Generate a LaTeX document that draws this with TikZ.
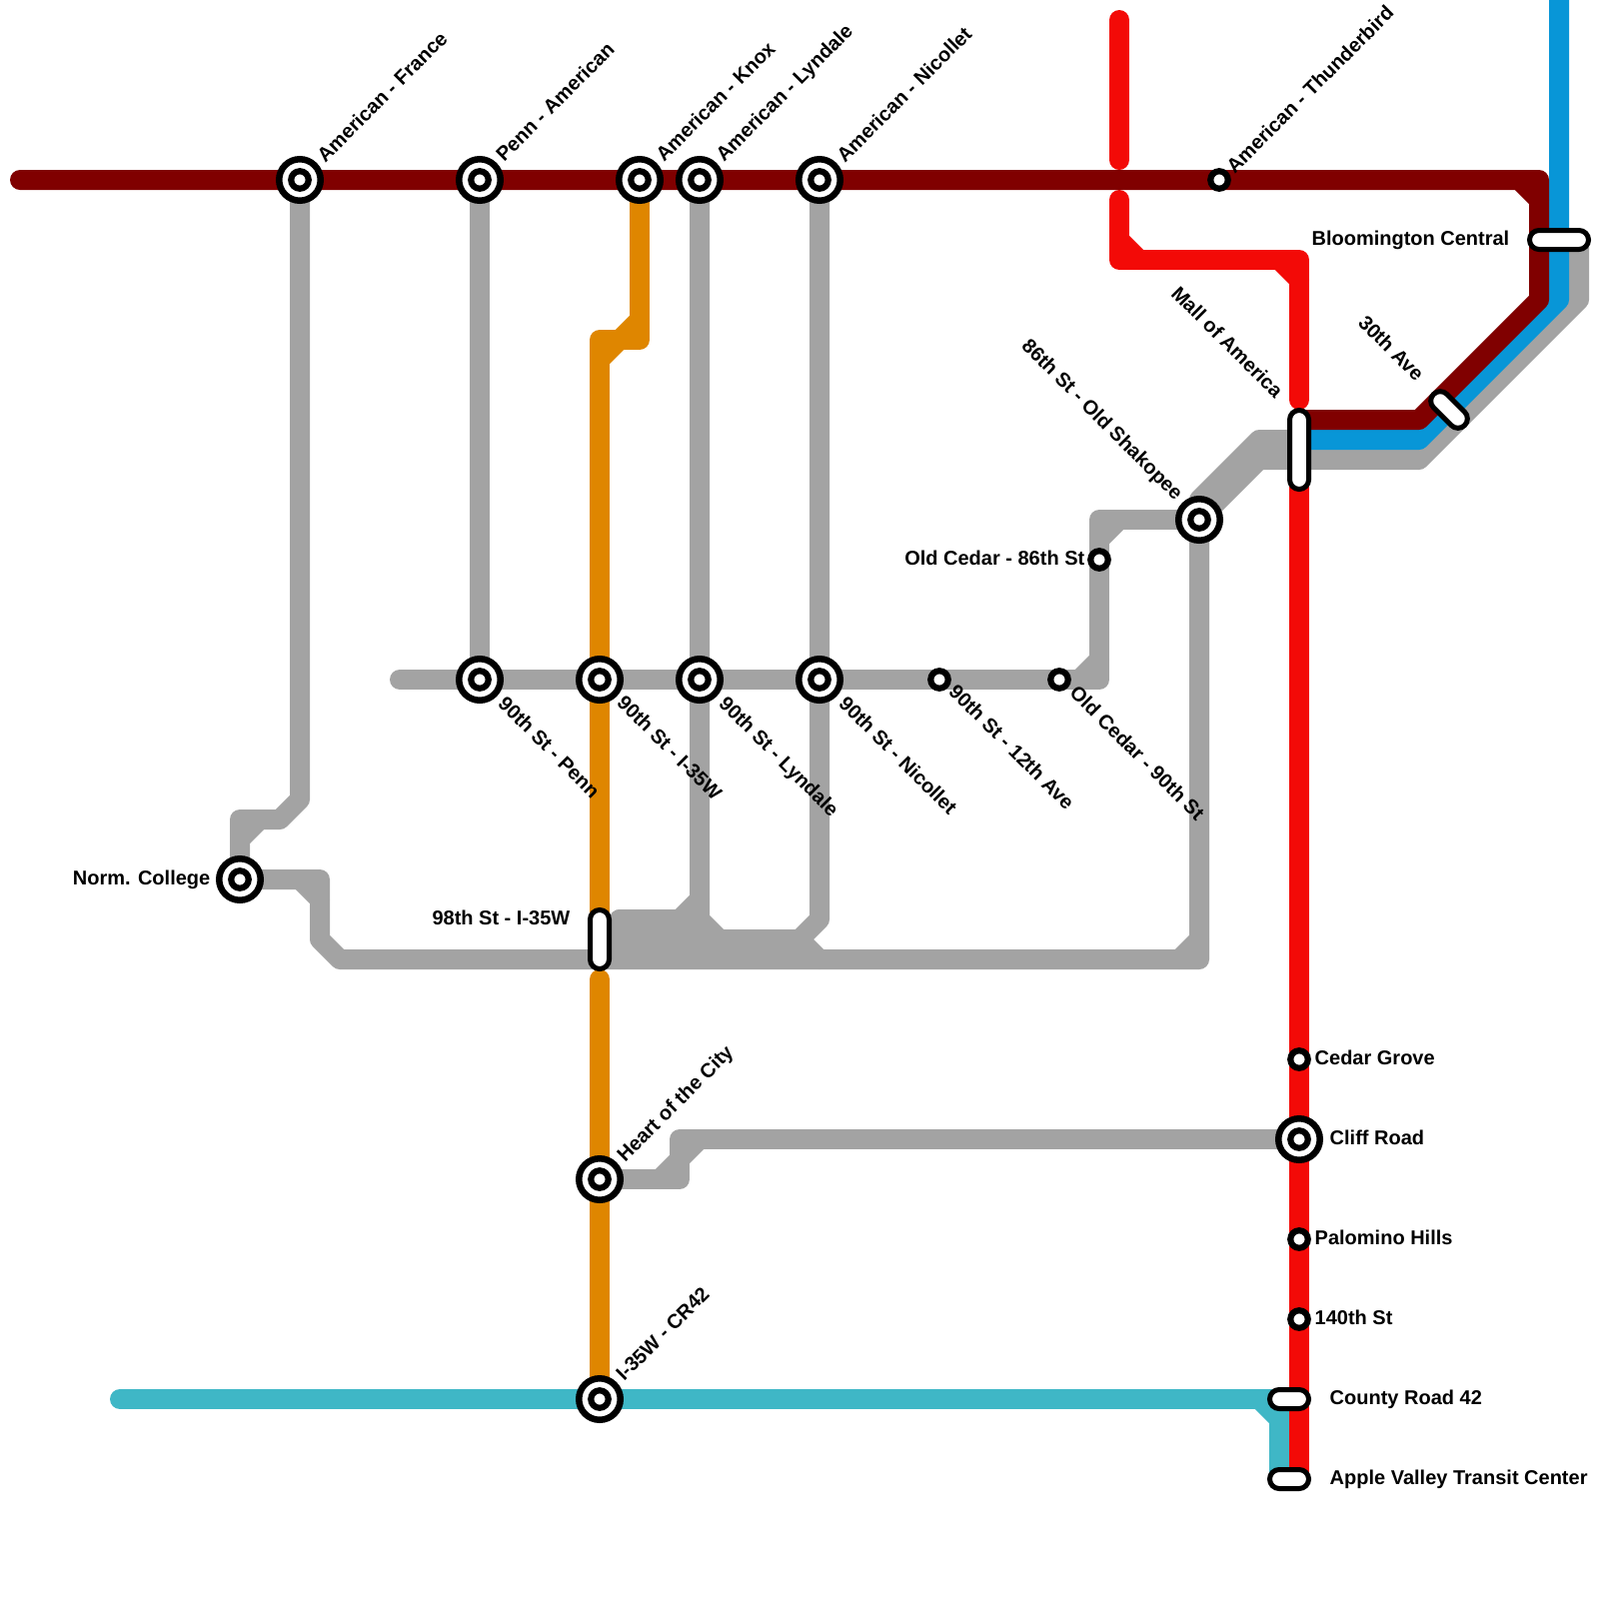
\documentclass[tikz,border=0pt]{standalone}
\usepackage{fontspec}
\setmainfont{Liberation Sans}
\definecolor{cmaroon}{HTML}{800000}
\definecolor{cred}{HTML}{F30A07}
\definecolor{cgray}{HTML}{A3A3A3}
\definecolor{corange}{HTML}{DF8600}
\definecolor{cteal}{HTML}{3FB7C6}
\definecolor{cblue}{HTML}{0896D7}
\tikzset{
  metro/.style={line width=2mm,line cap=round,line join=round},
  gline/.style={metro,draw=cgray},
  mline/.style={metro,draw=cmaroon},
  rline/.style={metro,draw=cred},
  oline/.style={metro,draw=corange},
  tline/.style={metro,draw=cteal},
  bline/.style={metro,draw=cblue},
  ringout/.style={circle,draw=black,fill=white,line width=0.65mm,minimum size=4.15mm,inner sep=0pt,outer sep=0pt},
  ringin/.style={circle,draw=black,fill=white,line width=0.62mm,minimum size=1.75mm,inner sep=0pt,outer sep=0pt},
  capsule/.style={rectangle,draw=black,fill=white,line width=0.5mm,minimum height=1.9mm,rounded corners=0.95mm,inner sep=0pt,outer sep=0pt},
  lab/.style={font=\fontsize{5.69pt}{7pt}\selectfont\bfseries,text=black,inner sep=0pt,text height=1.43mm,text depth=0mm},
  lw/.style={lab,anchor=west},
  le/.style={lab,anchor=east},
}
\newcommand{\bigst}[2]{\node[ringout] (#1-o) at (#2) {};\node[ringin] (#1-i) at (#2) {};}
\newcommand{\smallst}[2]{\node[ringin] (#1-s) at (#2) {};}
\begin{document}
\begin{tikzpicture}[x=0.1mm,y=-0.1mm]
\useasboundingbox (0,0) rectangle (1600,1600);
\fill[white] (0,0) rectangle (1600,1600);
\clip (0,0) rectangle (1600,1600);
% station positions
\coordinate (france) at (300,180);
\coordinate (penna) at (480,180);
\coordinate (knox) at (640,180);
\coordinate (lyndalea) at (700,180);
\coordinate (nicolleta) at (820,180);
\coordinate (thunder) at (1220,180);
\coordinate (penn90) at (480,680);
\coordinate (i35w90) at (600,680);
\coordinate (lyndale90) at (700,680);
\coordinate (nicollet90) at (820,680);
\coordinate (twelfth) at (940,680);
\coordinate (cedar90) at (1060,680);
\coordinate (cedar86) at (1100,560);
\coordinate (shakopee) at (1200,520);
\coordinate (norm) at (240,880);
\coordinate (i35w98) at (600,940);
\coordinate (heart) at (600,1180);
\coordinate (cr42) at (600,1400);
\coordinate (cliff) at (1300,1140);
\coordinate (grove) at (1300,1060);
\coordinate (palomino) at (1300,1240);
\coordinate (st140) at (1300,1320);
\coordinate (county) at (1290,1400);
\coordinate (apple) at (1290,1480);
\coordinate (moa) at (1300,450);
\coordinate (ave30) at (1450,410);
\coordinate (bloom) at (1560,240);
% gray lines
\draw[gline] (france) -- (300,800) -- (280,820) -- (240,820) -- (norm);
\draw[gline] (260,820) -- (240,840);
\draw[gline] (norm) -- (320,880) -- (320,940) -- (340,960) -- (1200,960) -- (shakopee);
\draw[gline] (300,880) -- (320,900);
\draw[gline] (1180,960) -- (1200,940);
\draw[gline] (penna) -- (penn90);
\draw[gline] (lyndalea) -- (700,900) -- (680,920) -- (620,920) -- (620,960);
\draw[gline] (620,920) -- (700,920);
\draw[gline] (700,900) -- (700,920) -- (720,940) -- (800,940) -- (820,920) -- (nicolleta);
\draw[gline] (620,940) -- (800,940) -- (820,960);
\draw[gline] (400,680) -- (1100,680) -- (1100,520) -- (shakopee);
\draw[gline] (1080,680) -- (1100,660);
\draw[gline] (1100,540) -- (1120,520);
\draw[gline] (shakopee) -- (1200,500) -- (1260,440) -- (1300,440);
\draw[gline] (shakopee) -- (1260,460) -- (1420,460) -- (1580,300) -- (1580,240);
\draw[gline] (heart) -- (680,1180) -- (680,1140) -- (cliff);
\draw[gline] (660,1180) -- (680,1160) -- (700,1140);
% orange
\draw[oline] (knox) -- (640,340) -- (600,340) -- (600,920);
\draw[oline] (640,320) -- (620,340) -- (600,360);
\draw[oline] (600,980) -- (cr42);
% teal
\draw[tline] (120,1400) -- (1280,1400) -- (1280,1480);
\draw[tline] (1260,1400) -- (1280,1420);
% red
\draw[rline] (1120,20) -- (1120,160);
\draw[rline] (1120,200) -- (1120,260) -- (1300,260) -- (1300,400);
\draw[rline] (1120,240) -- (1140,260);
\draw[rline] (1280,260) -- (1300,280);
\draw[rline] (1300,450) -- (1300,1480);
% blue
\draw[bline] (1560,-20) -- (1560,300) -- (1420,440) -- (1300,440);
% maroon
\draw[mline] (20,180) -- (1540,180) -- (1540,300) -- (1420,420) -- (1300,420);
\draw[mline] (1520,180) -- (1540,200);
% stations
\bigst{france}{france}
\bigst{penna}{penna}
\bigst{knox}{knox}
\bigst{lyndalea}{lyndalea}
\bigst{nicolleta}{nicolleta}
\smallst{thunder}{thunder}
\bigst{penn90}{penn90}
\bigst{i35w90}{i35w90}
\bigst{lyndale90}{lyndale90}
\bigst{nicollet90}{nicollet90}
\smallst{twelfth}{twelfth}
\smallst{cedar90}{cedar90}
\smallst{cedar86}{cedar86}
\bigst{shakopee}{shakopee}
\bigst{norm}{norm}
\bigst{heart}{heart}
\bigst{cr42}{cr42}
\bigst{cliff}{cliff}
\smallst{grove}{grove}
\smallst{palomino}{palomino}
\smallst{st140}{st140}
\node[capsule,minimum width=5.9mm,rotate=90] (i35w98-c) at (i35w98) {};
\node[capsule,minimum width=3.9mm] (county-c) at (county) {};
\node[capsule,minimum width=3.9mm] (apple-c) at (apple) {};
\node[capsule,minimum width=7.9mm,rotate=90] (moa-c) at (moa) {};
\node[capsule,minimum width=4.4mm,rotate=-45] (ave30-c) at (ave30) {};
\node[capsule,minimum width=5.9mm] (bloom-c) at (bloom) {};
% labels rising to the right
\node[lw,rotate=45] (l1) at (320,159) {American - France};
\node[lw,rotate=45] (l2) at (499,158) {Penn - American};
\node[lw,rotate=45] (l3) at (659,158) {American - Knox};
\node[lw,rotate=45] (l4) at (719,158) {American - Lyndale};
\node[lw,rotate=45] (l5) at (840,159) {American - Nicollet};
\node[lw,rotate=45] (l6) at (1230,170) {American - Thunderbird};
\node[lw,rotate=45] (l7) at (620,1159) {Heart of the City};
\node[lw,rotate=45] (l8) at (619,1378) {I-35W - CR42};
% labels falling to the right
\node[lw,rotate=-45] (l9) at (502,700) {90th St - Penn};
\node[lw,rotate=-45] (l10) at (621,699) {90th St - I-35W};
\node[lw,rotate=-45] (l11) at (723,700) {90th St - Lyndale};
\node[lw,rotate=-45] (l12) at (843,700) {90th St - Nicollet};
\node[lw,rotate=-45] (l13) at (953,688) {90th St - 12th Ave};
\node[lw,rotate=-45] (l14) at (1074,689) {Old Cedar - 90th St};
% labels falling, ending at the station
\node[le,rotate=-45] (l15) at (1181,497) {86th St - Old Shakopee};
\node[le,rotate=-45] (l16) at (1281,395) {Mall of America};
\node[le,rotate=-45] (l17) at (1422,378) {30th Ave};
% horizontal labels
\node[le] (l18) at (1511,238) {Bloomington Central};
\node[le] (l19) at (1086,558) {Old Cedar - 86th St};
\node[le] (l20) at (211,878) {Norm. College};
\node[le] (l21) at (571,918) {98th St - I-35W};
\node[lw] (l22) at (1315,1058) {Cedar Grove};
\node[lw] (l23) at (1330,1138) {Cliff Road};
\node[lw] (l24) at (1315,1238) {Palomino Hills};
\node[lw] (l25) at (1315,1318) {140th St};
\node[lw] (l26) at (1330,1398) {County Road 42};
\node[lw] (l27) at (1330,1478) {Apple Valley Transit Center};
\end{tikzpicture}
\end{document}
